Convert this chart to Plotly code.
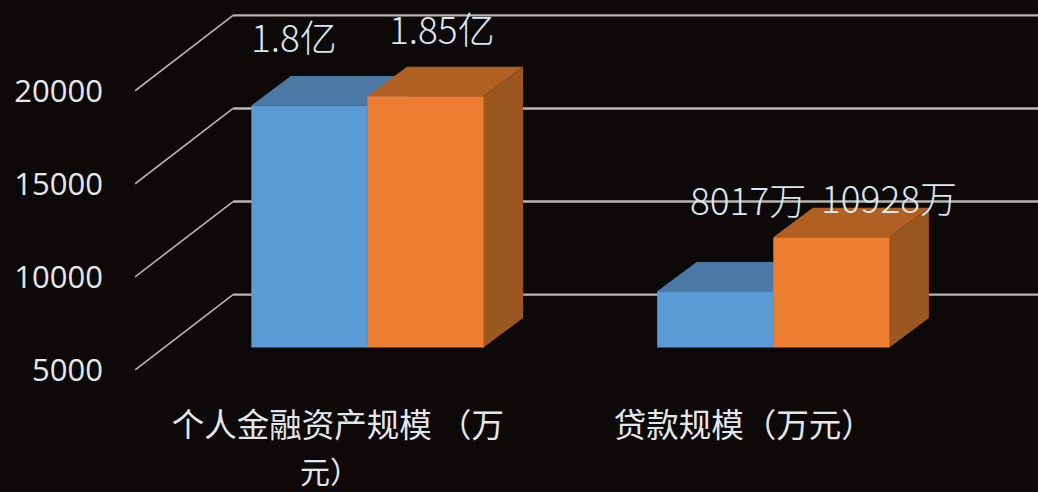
import plotly.graph_objects as go

categories = ["个人金融资产规模 （万", "贷款规模（万元）"]
category_wrap = "元）"
series_a = [18000, 8017]
series_b = [18500, 10928]
labels_a = ["1.8亿", "8017万"]
labels_b = ["1.85亿", "10928万"]
y_ticks = [5000, 10000, 15000, 20000]

BG = "#0c0908"
GRID = "#b9b6b1"
TEXT = "#e4e7e9"
LABEL = "#dbe7f0"
FONT = "Noto Sans CJK SC"

# scales: data units per pixel
U_X = 1 / 405.5
U_Y = 5000 / 93.2
BOTTOM = 5000
# depth of the wall and of the bars in pixels
WALL_DX, WALL_DY = 98 * U_X, 75.5 * U_Y
FRONT_DX, FRONT_DY = 29.5 * U_X, 22.5 * U_Y
BAR_DX, BAR_DY = 39.5 * U_X, 29.5 * U_Y
BAR_W = 116 * U_X
SEAM = 1.5 * U_X
X_MIN = -0.5
X_END = 1.75


def poly(points):
    return "M " + " L ".join(f"{x},{y}" for x, y in points) + " Z"


shapes = []
for v in y_ticks:
    shapes.append(dict(type="line", xref="x", yref="y", layer="below",
                       x0=X_MIN, y0=v, x1=X_MIN + WALL_DX, y1=v + WALL_DY,
                       line=dict(color=GRID, width=1.6)))
    shapes.append(dict(type="line", xref="x", yref="y", layer="below",
                       x0=X_MIN + WALL_DX, y0=v + WALL_DY, x1=X_END, y1=v + WALL_DY,
                       line=dict(color=GRID, width=2.4)))

annotations = []
SERIES = [
    dict(values=series_a, texts=labels_a, offset=-BAR_W, front="#5b9bd5", top="#4a79a5", side="#3f6a94",
         xs=[-15, 33], ys=[70, 92]),
    dict(values=series_b, texts=labels_b, offset=0, front="#ed7d31", top="#b16024", side="#9a571f",
         xs=[16, 58], ys=[68, 40]),
]

traces = []
for s in SERIES:
    centers = [i + FRONT_DX for i in range(len(categories))]
    base = BOTTOM + FRONT_DY
    traces.append(go.Bar(
        x=centers, y=[v - BOTTOM for v in s["values"]], base=base,
        width=BAR_W, offset=s["offset"], marker=dict(color=s["front"], line=dict(width=0)),
        showlegend=False, hoverinfo="skip"))
    for c, v, t, xs, ys in zip(centers, s["values"], s["texts"], s["xs"], s["ys"]):
        x0 = c + s["offset"]
        x1 = x0 + BAR_W
        top = v + FRONT_DY
        shapes.append(dict(type="path", xref="x", yref="y", layer="below", line=dict(width=0),
                           fillcolor=s["top"],
                           path=poly([(x0, top), (x1, top), (x1 + BAR_DX, top + BAR_DY), (x0 + BAR_DX, top + BAR_DY)])))
        shapes.append(dict(type="path", xref="x", yref="y", layer="below", line=dict(width=0),
                           fillcolor=s["side"],
                           path=poly([(x1 - SEAM, base), (x1, base), (x1 + BAR_DX, base + BAR_DY),
                                      (x1 + BAR_DX, top + BAR_DY), (x1, top), (x1 - SEAM, top)])))
        annotations.append(dict(x=x0 + BAR_W / 2, y=top, xref="x", yref="y", text=t, showarrow=False,
                                xanchor="center", yanchor="middle", xshift=xs, yshift=ys,
                                font=dict(family=FONT, size=37, color=LABEL, weight=300)))

annotations.append(dict(x=0, y=BOTTOM, xref="x", yref="y", text=category_wrap, showarrow=False,
                        xanchor="center", yanchor="middle", xshift=-8, yshift=-100,
                        font=dict(family=FONT, size=30, color=TEXT)))

fig = go.Figure(traces)
fig.update_layout(
    width=1038, height=492, autosize=False,
    margin=dict(l=135, r=0, t=0, b=121.5, pad=0),
    paper_bgcolor=BG, plot_bgcolor=BG,
    barmode="overlay", showlegend=False,
    shapes=shapes, annotations=annotations,
    xaxis=dict(range=[X_MIN, 1.725], tickmode="array", tickvals=list(range(len(categories))),
               ticktext=categories, showgrid=False, zeroline=False, showline=False, ticks="",
               ticklabelstandoff=33, tickangle=0,
               tickfont=dict(family=FONT, size=32.5, color=TEXT)),
    yaxis=dict(range=[BOTTOM, BOTTOM + 370.5 * U_Y], tickmode="array", tickvals=y_ticks,
               ticktext=[str(v) for v in y_ticks], showgrid=False, zeroline=False, showline=False, ticks="",
               ticklabelstandoff=31,
               tickfont=dict(family="Open Sans", size=31, color=TEXT)),
)
fig.write_html("out.html", config=dict(displayModeBar=False),
               post_script="document.body.style.margin='0';document.body.style.background='#0c0908';document.body.style.overflow='hidden';")
